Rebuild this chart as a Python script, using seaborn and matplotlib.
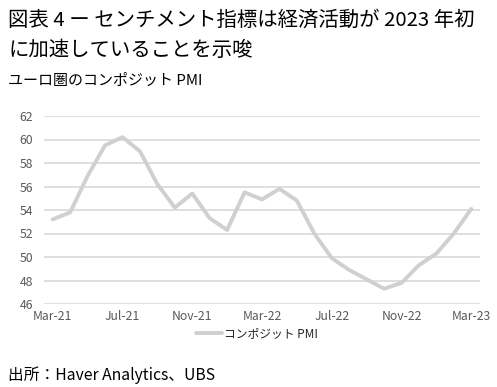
import matplotlib
matplotlib.use("Agg")
import matplotlib.pyplot as plt
import seaborn as sns
import pandas as pd

months = ["Mar-21","Apr-21","May-21","Jun-21","Jul-21","Aug-21","Sep-21","Oct-21","Nov-21","Dec-21",
          "Jan-22","Feb-22","Mar-22","Apr-22","May-22","Jun-22","Jul-22","Aug-22","Sep-22","Oct-22",
          "Nov-22","Dec-22","Jan-23","Feb-23","Mar-23"]
pmi = [53.2, 53.8, 56.9, 59.5, 60.2, 59.0, 56.2, 54.2, 55.4, 53.3,
       52.3, 55.5, 54.9, 55.8, 54.8, 52.0, 49.9, 48.9, 48.1, 47.3,
       47.8, 49.3, 50.3, 52.0, 54.1]
tick_labels = ["Mar-21", "Jul-21", "Nov-21", "Mar-22", "Jul-22", "Nov-22", "Mar-23"]
y_ticks = [46, 48, 50, 52, 54, 56, 58, 60, 62]
series_name = "コンポジット PMI"

sns.set_theme(style="white")
plt.rcParams['font.family'] = ['Noto Sans CJK JP', 'DejaVu Sans']

df = pd.DataFrame({"idx": range(len(months)), "month": months, "value": pmi})

fig = plt.figure(figsize=(4.97, 3.87), dpi=100)
W, H = 497, 387
ax = fig.add_axes([44 / W, 1 - 304 / H, (480 - 44) / W, (304 - 116) / H])

sns.lineplot(data=df, x="idx", y="value", ax=ax, color="#d0d0d0", linewidth=2.8,
             label=series_name, legend=False)

ax.set_xlim(-0.5, len(months) - 0.5)
ax.set_ylim(46, 62)
ax.set_yticks(y_ticks)
ax.set_yticklabels([str(v) for v in y_ticks])
ax.set_xticks([months.index(t) for t in tick_labels])
ax.set_xticklabels(tick_labels)
ax.grid(axis="y", color="#d9d9d9", linewidth=1.2)
ax.grid(axis="x", visible=False)
for s in ax.spines.values():
    s.set_visible(False)
ax.tick_params(axis="both", length=0, labelsize=8.8, colors="#595959")
ax.tick_params(axis="y", pad=8)
ax.tick_params(axis="x", pad=4)
ax.set_xlabel("")
ax.set_ylabel("")

handles, labels = ax.get_legend_handles_labels()
fig.legend(handles, labels, loc="center", bbox_to_anchor=(257 / W, 1 - 334 / H),
           frameon=False, fontsize=8.5, handlelength=2.2, handletextpad=0.2,
           borderaxespad=0)

fig.text(8 / W, 1 - 20 / H, "図表 4 ー センチメント指標は経済活動が 2023 年初", fontsize=14.7,
         ha="left", va="center", color="black")
fig.text(8 / W, 1 - 50 / H, "に加速していることを示唆", fontsize=14.7,
         ha="left", va="center", color="black")
fig.text(8 / W, 1 - 81 / H, "ユーロ圏のコンポジット PMI", fontsize=10.8,
         ha="left", va="center", color="black")
fig.text(8 / W, 1 - 375 / H, "出所：Haver Analytics、UBS", fontsize=11.3,
         ha="left", va="center", color="black")

fig.savefig("out.png", dpi=100)
